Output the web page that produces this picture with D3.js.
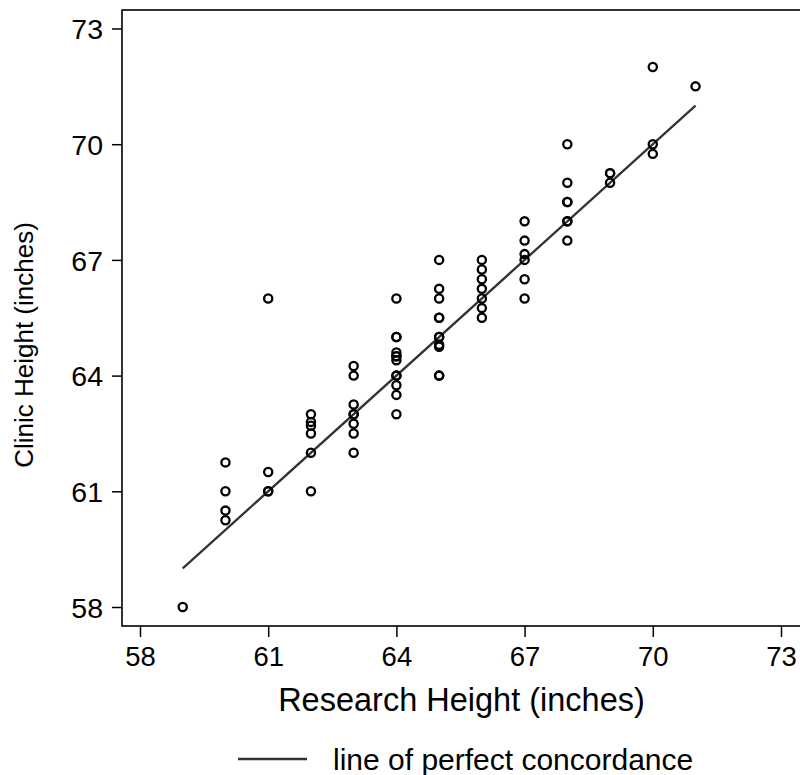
<!DOCTYPE html>
<html>
<head>
<meta charset="utf-8">
<script src="https://cdn.jsdelivr.net/npm/d3@7"></script>
<style>
  html, body { margin: 0; padding: 0; background: #fff; }
  svg { display: block; font-family: "Liberation Sans", Arial, Helvetica, sans-serif; }
</style>
</head>
<body>
<svg id="chart" width="800" height="775"></svg>
<script>
// Research (x) vs clinic (y) height measurements, inches
const researchHeight = [
  59,
  60, 60, 60, 60,
  61, 61, 61, 61,
  62, 62, 62, 62, 62, 62,
  63, 63, 63, 63, 63, 63, 63, 63,
  64, 64, 64, 64, 64, 64, 64, 64, 64, 64, 64, 64,
  65, 65, 65, 65, 65, 65, 65, 65, 65, 65, 65,
  66, 66, 66, 66, 66, 66, 66,
  67, 67, 67, 67, 67, 67,
  68, 68, 68, 68, 68, 68, 68,
  69, 69, 69,
  70, 70, 70,
  71
];
const clinicHeight = [
  58,
  61.75, 61, 60.5, 60.25,
  66, 61.5, 61, 61,
  63, 62.8, 62.7, 62.5, 62, 61,
  64.25, 64, 63.25, 63, 63, 62.75, 62.5, 62,
  66, 65, 65, 64.6, 64.5, 64.5, 64.4, 64, 64, 63.75, 63.5, 63,
  67, 66.25, 66, 65.5, 65.5, 65, 65, 64.8, 64.75, 64, 64,
  67, 66.75, 66.5, 66.25, 66, 65.75, 65.5,
  68, 67.5, 67.15, 67, 66.5, 66,
  70, 69, 68.5, 68.5, 68, 68, 67.5,
  69.25, 69.25, 69,
  72, 70, 69.75,
  71.5
];
// Identity line endpoints
const concordance = [59, 71];
const tickValues = [58, 61, 64, 67, 70, 73];
const xTitle = "Research Height (inches)";
const yTitle = "Clinic Height (inches)";
const legendLabel = "line of perfect concordance";

const points = researchHeight.map((r, i) => ({ r, c: clinicHeight[i] }));

const svg = d3.select("#chart");

const frame = { left: 122, right: 801, top: 10, bottom: 626 };
const x = d3.scaleLinear().domain([58, 73]).range([140, 781]);
const y = d3.scaleLinear().domain([58, 73]).range([607, 28.5]);

// Plot frame
svg.append("rect")
  .attr("x", frame.left).attr("y", frame.top)
  .attr("width", frame.right - frame.left)
  .attr("height", frame.bottom - frame.top)
  .attr("fill", "none").attr("stroke", "#000").attr("stroke-width", 1.6);

// Axes
const xAxis = svg.append("g")
  .attr("transform", `translate(0,${frame.bottom})`)
  .call(d3.axisBottom(x).tickValues(tickValues).tickSize(11).tickPadding(8).tickFormat(d3.format("d")));
xAxis.select(".domain").remove();
xAxis.selectAll(".tick line").attr("stroke", "#000").attr("stroke-width", 1.5);
xAxis.selectAll(".tick text")
  .attr("font-size", 27.5).attr("fill", "#000")
  .attr("dy", null).attr("y", 40);

const yAxis = svg.append("g")
  .attr("transform", `translate(${frame.left},0)`)
  .call(d3.axisLeft(y).tickValues(tickValues).tickSize(10).tickPadding(9).tickFormat(d3.format("d")));
yAxis.select(".domain").remove();
yAxis.selectAll(".tick line").attr("stroke", "#000").attr("stroke-width", 1.5);
yAxis.selectAll(".tick text")
  .attr("font-size", 28.5).attr("fill", "#000")
  .attr("dy", "0.36em");

// Line of perfect concordance
svg.append("line")
  .attr("x1", x(concordance[0])).attr("y1", y(concordance[0]))
  .attr("x2", x(concordance[1])).attr("y2", y(concordance[1]))
  .attr("stroke", "#333").attr("stroke-width", 2.3);

// Hollow circle markers
svg.append("g").selectAll("circle")
  .data(points)
  .join("circle")
  .attr("cx", d => x(d.r))
  .attr("cy", d => y(d.c))
  .attr("r", 4.1)
  .attr("fill", "none")
  .attr("stroke", "#000")
  .attr("stroke-width", 2.3);

// Axis titles
svg.append("text")
  .attr("x", (frame.left + frame.right) / 2)
  .attr("y", 711)
  .attr("text-anchor", "middle")
  .attr("font-size", 32.5)
  .attr("fill", "#000")
  .text(xTitle);

svg.append("text")
  .attr("transform", "translate(32.5,345) rotate(-90)")
  .attr("text-anchor", "middle")
  .attr("font-size", 26)
  .attr("fill", "#000")
  .text(yTitle);

// Legend
const legend = svg.append("g");
legend.append("line")
  .attr("x1", 238).attr("x2", 307)
  .attr("y1", 759).attr("y2", 759)
  .attr("stroke", "#333").attr("stroke-width", 2.4);
legend.append("text")
  .attr("x", 333).attr("y", 770)
  .attr("font-size", 30)
  .attr("fill", "#000")
  .text(legendLabel);
</script>
</body>
</html>
